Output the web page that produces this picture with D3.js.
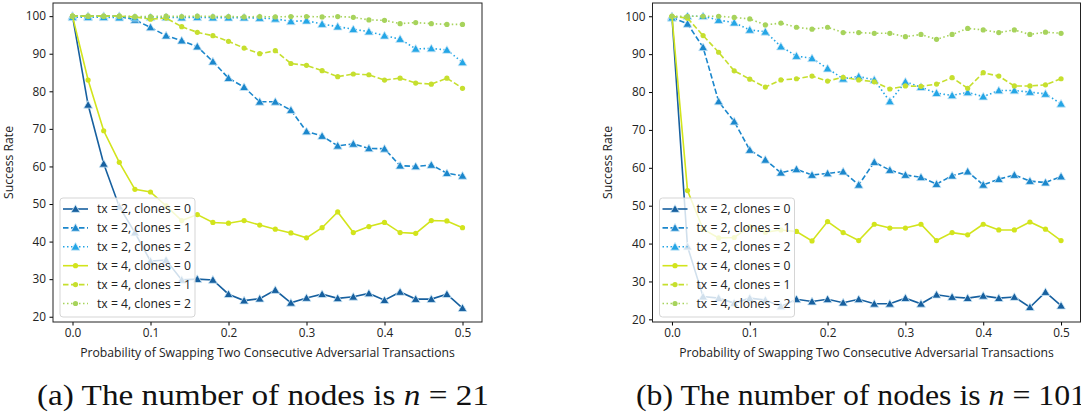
<!DOCTYPE html>
<html>
<head>
<meta charset="utf-8">
<script src="https://cdn.jsdelivr.net/npm/d3@7"></script>
<style>
  body { margin: 0; background: #fff; }
  .tick text { font-family: "Open Sans", sans-serif; font-size: 11.8px; fill: #222; }
  .axisText { font-family: "Open Sans", sans-serif; font-size: 12.2px; fill: #222; }
  .legText { font-family: "Open Sans", sans-serif; font-size: 12.2px; fill: #222; }
  .caption { font-family: "Liberation Serif", "DejaVu Serif", serif; font-size: 29px; fill: #111; }
</style>
</head>
<body>
<div id="chart"></div>
<script>
// swap probability 0.00 .. 0.50, step 0.02
var xValues = [0, 0.02, 0.04, 0.06, 0.08, 0.1, 0.12, 0.14, 0.16, 0.18, 0.2, 0.22, 0.24,
               0.26, 0.28, 0.3, 0.32, 0.34, 0.36, 0.38, 0.4, 0.42, 0.44, 0.46, 0.48, 0.5];

var seriesNames = ["tx = 2, clones = 0", "tx = 2, clones = 1", "tx = 2, clones = 2",
                   "tx = 4, clones = 0", "tx = 4, clones = 1", "tx = 4, clones = 2"];

var xTicks = [0, 0.1, 0.2, 0.3, 0.4, 0.5];
var yTicks = [20, 30, 40, 50, 60, 70, 80, 90, 100];

// (a) n = 21
var a_tx2c0 = [100, 76.4, 60.7, 49.3, 42.4, 34.8, 35.1, 29.8, 30.0, 29.8, 26.0, 24.3, 24.8,
               27.1, 23.7, 25.0, 26.0, 24.9, 25.3, 26.2, 24.4, 26.6, 24.7, 24.7, 26.0, 22.3];
var a_tx2c1 = [100, 100, 100, 100, 99.0, 97.0, 94.8, 93.5, 91.9, 87.9, 83.5, 81.1, 77.2,
               77.2, 75.0, 69.3, 68.1, 65.5, 66.0, 64.8, 64.7, 60.2, 60.0, 60.4, 58.2, 57.5];
var a_tx2c2 = [99.7, 99.7, 99.7, 99.6, 99.6, 99.7, 99.7, 99.6, 99.7, 99.6, 99.6, 99.6, 99.5,
               99.3, 98.6, 98.8, 97.9, 97.2, 96.5, 95.9, 94.8, 93.9, 91.3, 91.4, 91.0, 87.7];
var a_tx4c0 = [100, 83.0, 69.5, 61.1, 53.9, 53.2, 49.5, 45.6, 47.2, 45.1, 44.9, 45.6, 44.4,
               43.3, 42.3, 41.0, 43.7, 47.9, 42.4, 44.0, 45.1, 42.4, 42.2, 45.6, 45.5, 43.7];
var a_tx4c1 = [100, 100, 100, 100, 99.8, 99.2, 99.5, 97.2, 95.7, 94.8, 93.3, 91.5, 90.0,
               90.8, 87.4, 86.9, 85.5, 83.9, 84.6, 84.4, 83.0, 83.5, 82.2, 81.9, 83.5, 80.8];
var a_tx4c2 = [100, 100, 100, 100, 99.9, 99.9, 100, 99.9, 100, 99.9, 99.9, 99.8, 99.9,
               99.8, 99.9, 99.9, 99.8, 99.9, 99.7, 99.0, 98.9, 98.0, 98.3, 98.0, 97.8, 97.8];

// (b) n = 101
var b_tx2c0 = [100, 39.2, 26.0, 25.6, 24.3, 25.6, 25.1, 23.4, 25.3, 24.7, 25.3, 24.4, 25.3,
               24.1, 24.1, 25.6, 24.1, 26.5, 25.9, 25.6, 26.2, 25.6, 25.9, 23.2, 27.2, 23.6];
var b_tx2c1 = [99.7, 98.0, 91.8, 77.5, 72.2, 64.7, 62.1, 58.7, 59.6, 58.1, 58.5, 59.0, 55.5,
               61.5, 59.4, 58.1, 57.5, 55.7, 57.9, 59.0, 55.5, 57.0, 58.1, 56.5, 56.1, 57.7];
var b_tx2c2 = [99.6, 100, 100, 99.0, 98.3, 96.4, 95.9, 92.0, 89.5, 88.9, 86.2, 83.5, 84.1,
               83.2, 77.5, 82.7, 81.3, 79.7, 79.1, 79.9, 78.8, 80.4, 80.4, 80.0, 79.5, 76.9];
var b_tx4c0 = [100, 54.0, 43.8, 41.5, 41.6, 44.5, 43.0, 43.6, 43.2, 40.7, 45.8, 42.9, 40.8,
               45.1, 44.1, 44.1, 45.1, 40.8, 42.9, 42.3, 45.1, 43.6, 43.6, 45.7, 43.8, 40.8];
var b_tx4c1 = [100, 99.5, 94.9, 90.5, 85.6, 83.4, 81.3, 83.2, 83.5, 84.2, 82.9, 83.9, 83.2,
               82.7, 80.8, 81.6, 81.5, 82.1, 83.8, 81.0, 85.1, 84.2, 81.6, 81.6, 81.9, 83.5];
var b_tx4c2 = [100, 100, 100, 100, 99.7, 99.3, 97.7, 98.2, 97.1, 96.6, 97.1, 95.7, 95.7,
               95.5, 95.5, 94.6, 95.2, 93.9, 95.2, 96.8, 96.4, 95.7, 96.4, 95.2, 95.8, 95.5];

var colors = ["#17609f", "#1b87cc", "#24a6e6", "#d2e41c", "#c6df2e", "#a7d35c"];
var dashes = [null, "5.5,2.5", "1.5,2.5", null, "5.5,2.5", "1.5,2.5"];
var markers = ["tri", "tri", "tri", "dot", "dot", "dot"];

var svgWidth = 1081;
var svgHeight = 415;

var svg = d3.select("#chart")
    .append("svg")
    .attr("width", svgWidth)
    .attr("height", svgHeight);

var triangle = d3.symbol().type(d3.symbolTriangle).size(34);

function drawMarker(sel, kind, color) {
    if (kind == "tri") {
        sel.append("path")
            .attr("d", triangle)
            .attr("transform", "translate(0,0.8)")
            .attr("fill", color)
            .attr("stroke", "#cfe8f7")
            .attr("stroke-width", 0.8);
    } else {
        sel.append("circle")
            .attr("r", 2.6)
            .attr("fill", color)
            .attr("stroke", "none");
    }
}

function drawPanel(opts) {
    var x = d3.scaleLinear().domain([-0.025, 0.525]).range([opts.left, opts.right]);
    var y = d3.scaleLinear().domain(opts.yDomain).range([opts.bottom, opts.top]);

    var g = svg.append("g");

    // axes
    g.append("g")
        .attr("transform", `translate(0, ${opts.bottom})`)
        .call(d3.axisBottom(x).tickValues(xTicks).tickFormat(d3.format(".1f")).tickSize(3.5).tickPadding(3.5))
        .call(a => a.select(".domain").remove());

    g.append("g")
        .attr("transform", `translate(${opts.left}, 0)`)
        .call(d3.axisLeft(y).tickValues(yTicks).tickSize(3.5).tickPadding(3.5))
        .call(a => a.select(".domain").remove());

    // lines
    opts.data.forEach(function(vals, i) {
        var pts = xValues.map((v, j) => [v, vals[j]]);
        var line = d3.line().x(d => x(d[0])).y(d => y(d[1]));
        g.append("path")
            .datum(pts)
            .attr("d", line)
            .attr("fill", "none")
            .attr("stroke", colors[i])
            .attr("stroke-width", 1.6)
            .attr("stroke-dasharray", dashes[i]);

        g.selectAll(null)
            .data(pts)
            .enter()
            .append("g")
            .attr("transform", d => `translate(${x(d[0])},${y(d[1])})`)
            .each(function() { drawMarker(d3.select(this), markers[i], colors[i]); });
    });

    // frame
    g.append("rect")
        .attr("x", opts.left)
        .attr("y", opts.top)
        .attr("width", opts.right - opts.left)
        .attr("height", opts.bottom - opts.top)
        .attr("fill", "none")
        .attr("stroke", "#222")
        .attr("stroke-width", 1);

    // axis labels
    g.append("text")
        .attr("class", "axisText")
        .attr("transform", `translate(${opts.yLabelX}, ${(opts.top + opts.bottom) / 2}) rotate(-90)`)
        .attr("text-anchor", "middle")
        .text("Success Rate");

    g.append("text")
        .attr("class", "axisText")
        .attr("x", x(0.25))
        .attr("y", opts.bottom + 35)
        .attr("text-anchor", "middle")
        .text("Probability of Swapping Two Consecutive Adversarial Transactions");

    // legend
    var lx = opts.left + 7;
    var ly = 198;
    var leg = g.append("g");
    leg.append("rect")
        .attr("x", lx)
        .attr("y", ly)
        .attr("width", 135)
        .attr("height", 119)
        .attr("rx", 3)
        .attr("fill", "white")
        .attr("fill-opacity", 0.8)
        .attr("stroke", "#d5d5d5")
        .attr("stroke-width", 1);

    seriesNames.forEach(function(name, i) {
        var rowY = ly + 11 + i * 18.9;
        leg.append("line")
            .attr("x1", lx + 3).attr("x2", lx + 28)
            .attr("y1", rowY).attr("y2", rowY)
            .attr("stroke", colors[i])
            .attr("stroke-width", 1.6)
            .attr("stroke-dasharray", dashes[i]);
        drawMarker(leg.append("g").attr("transform", `translate(${lx + 15.5},${rowY})`), markers[i], colors[i]);
        leg.append("text")
            .attr("class", "legText")
            .attr("x", lx + 37)
            .attr("y", rowY + 4.2)
            .text(name);
    });

    // caption
    var cap = svg.append("text")
        .attr("class", "caption")
        .attr("x", opts.capX)
        .attr("y", 405)
        .attr("textLength", opts.capW)
        .attr("lengthAdjust", "spacingAndGlyphs");
    cap.append("tspan").text(opts.capLetter + " The number of nodes is ");
    cap.append("tspan").attr("font-style", "italic").text("n");
    cap.append("tspan").text(" = " + opts.capN);
}

drawPanel({
    left: 53, right: 482, top: 3, bottom: 322,
    yDomain: [18.6, 103.5], yLabelX: 13,
    data: [a_tx2c0, a_tx2c1, a_tx2c2, a_tx4c0, a_tx4c1, a_tx4c2],
    capX: 37, capW: 452, capLetter: "(a)", capN: "21"
});

drawPanel({
    left: 652.5, right: 1080.5, top: 3, bottom: 322,
    yDomain: [19.3, 103.5], yLabelX: 612,
    data: [b_tx2c0, b_tx2c1, b_tx2c2, b_tx4c0, b_tx4c1, b_tx4c2],
    capX: 636, capW: 450, capLetter: "(b)", capN: "101"
});
</script>
</body>
</html>
